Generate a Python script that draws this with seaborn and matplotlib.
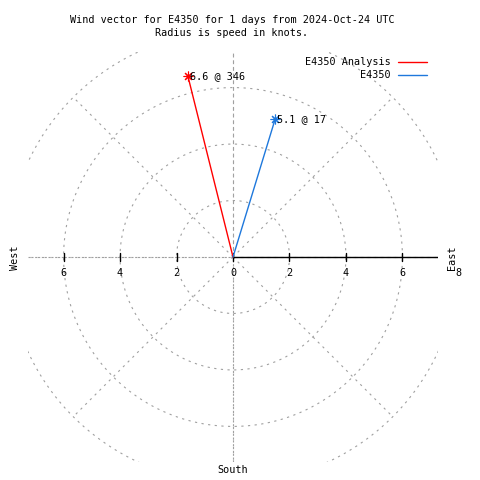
import numpy as np
import seaborn as sns
import matplotlib.pyplot as plt

# wind vectors (speed in knots, direction in degrees from north)
series = ['E4350 Analysis', 'E4350']
speeds = [6.6, 5.1]
directions = [346, 17]
colors = ['#ff0000', '#1e78dc']

rings = [2, 4, 6, 8]
spokes = [0, 45, 90, 135, 180, 225, 270, 315]
tick_vals = [-6, -4, -2, 0, 2, 4, 6, 8]
lim = max(speeds) * 1.1

sns.set_style('white')
plt.rcParams['font.family'] = ['DejaVu Sans Mono']
plt.rcParams['text.color'] = 'black'
fs = 7.3

fig = plt.figure(figsize=(4.8, 4.8), dpi=100)
ax = fig.add_axes([28 / 480, 18 / 480, 410 / 480, 410 / 480])
ax.set_xlim(-lim, lim)
ax.set_ylim(-lim, lim)
ax.set_aspect('equal')
ax.axis('off')

grid_kw = dict(color='#a0a0a0', lw=0.8, ls=(0, (2, 4)))

# polar grid
t = np.linspace(0, 2 * np.pi, 400)
for r in rings:
    ax.plot(r * np.cos(t), r * np.sin(t), **grid_kw)
for a in spokes:
    a = np.deg2rad(a)
    ax.plot([0, 8 * np.cos(a)], [0, 8 * np.sin(a)], **grid_kw)

# axes lines
ax.plot([-lim, lim], [0, 0], **grid_kw)
ax.plot([0, 0], [-lim, lim], **grid_kw)
ax.plot([0, lim], [0, 0], color='black', lw=1)

# ticks and labels
for v in tick_vals:
    if abs(v) < lim:
        ax.plot([v, v], [-0.14, 0.14], color='black', lw=1)
    ax.text(v, -0.57, str(abs(v)), ha='center', va='center', fontsize=fs, clip_on=False)

ax.text(7.75, -0.04, 'East', rotation=90, ha='center', va='center', fontsize=fs, clip_on=False)
ax.text(-7.72, -0.04, 'West', rotation=90, ha='center', va='center', fontsize=fs, clip_on=False)
ax.text(0, -7.54, 'South', ha='center', va='center', fontsize=fs, clip_on=False)

# vectors
for name, s, d, c in zip(series, speeds, directions, colors):
    x = s * np.sin(np.deg2rad(d))
    y = s * np.cos(np.deg2rad(d))
    sns.lineplot(x=[0, x], y=[0, y], sort=False, color=c, lw=1, ax=ax)
    ax.plot([x], [y], marker=(8, 2, 0), ms=7, mew=0.8, color=c, clip_on=False)
    ax.text(x + 0.07, y, f'{s} @ {d}', ha='left', va='center', fontsize=fs, clip_on=False)

# legend drawn by hand, text right aligned
for i, (name, c) in enumerate(zip(series, colors)):
    yy = 1 - (62 + 13 * i) / 480
    fig.text(391 / 480, yy, name, ha='right', va='center', fontsize=fs)
    fig.add_artist(plt.Line2D([398 / 480, 427 / 480], [yy, yy], color=c, lw=1))

fig.text(232 / 480, 1 - 20 / 480, 'Wind vector for E4350 for 1 days from 2024-Oct-24 UTC',
         ha='center', va='center', fontsize=fs)
fig.text(232 / 480, 1 - 33 / 480, 'Radius is speed in knots.',
         ha='center', va='center', fontsize=fs)

fig.savefig('out.png', dpi=100)
